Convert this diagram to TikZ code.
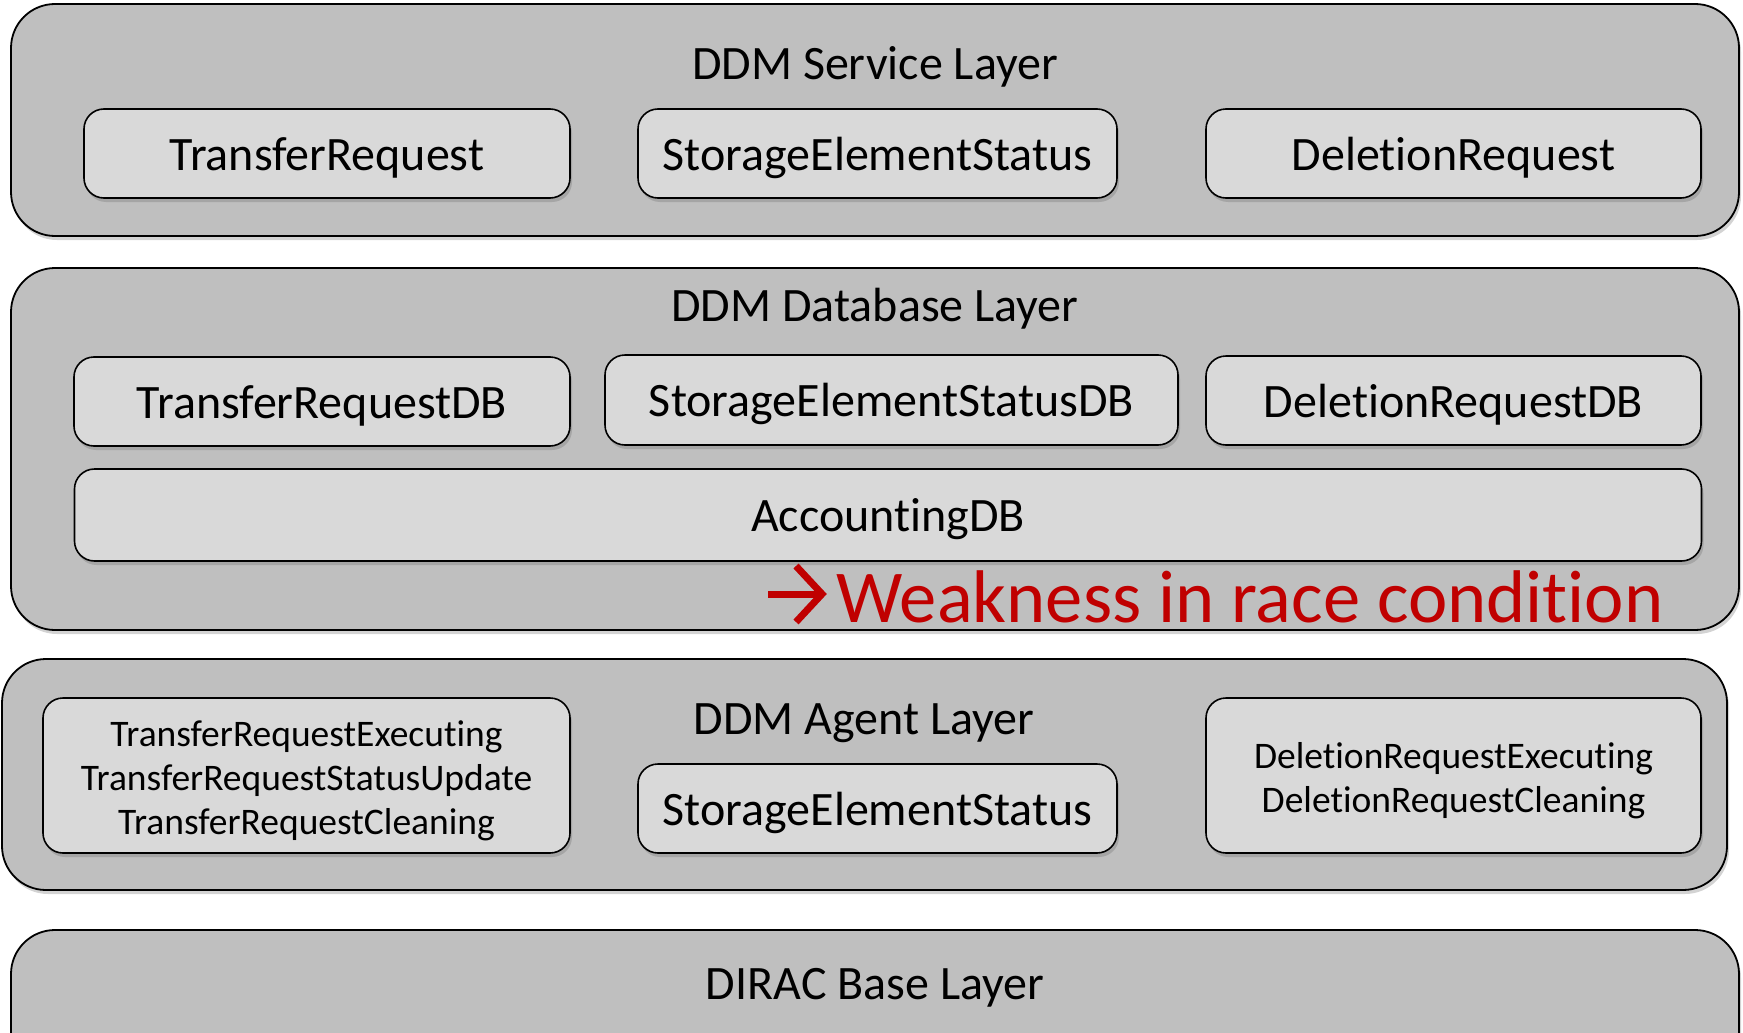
\documentclass[tikz,border=0pt]{standalone}
\usepackage{fontspec}
\setmainfont{Carlito}[Ligatures=NoCommon]
\usetikzlibrary{shadows}
\definecolor{layerfill}{RGB}{191,191,191}
\definecolor{boxfill}{RGB}{217,217,217}
\definecolor{warnred}{RGB}{192,0,0}
\tikzset{
  layerbox/.style={draw=black, line width=1.8pt, fill=layerfill, rounded corners=44pt,
    drop shadow={opacity=0.35, shadow xshift=2pt, shadow yshift=-4pt}},
  compbox/.style={draw=black, line width=1.6pt, fill=boxfill, rounded corners=20pt,
    drop shadow={opacity=0.4, shadow xshift=2pt, shadow yshift=-4pt}, inner sep=0pt, align=center},
  bigtxt/.style={font=\fontsize{48}{56}\selectfont, text height=40pt, text depth=7pt},
  smalltxt/.style={font=\fontsize{37.5}{44}\selectfont},
  titletxt/.style={font=\fontsize{48}{56}\selectfont, inner sep=0pt, anchor=base},
  warnarrow/.style={draw=warnred, line width=7pt, miter limit=10},
}
\newcommand{\firstline}{\rule{0pt}{37pt}}
\begin{document}
\begin{tikzpicture}[x=1pt,y=-1pt]
\useasboundingbox (0,0) rectangle (1743,1033);
\clip (0,0) rectangle (1743,1033);
% layers
\node[layerbox, minimum width=1728pt, minimum height=232pt] (svc) at (875,120) {};
\node[layerbox, minimum width=1728pt, minimum height=362pt] (db) at (875,449) {};
\node[layerbox, minimum width=1725pt, minimum height=231pt] (agent) at (864.5,774.5) {};
\node[layerbox, minimum width=1728pt, minimum height=160pt] (dirac) at (875,1010) {};
% titles
\node[titletxt] (svct) at (875,79) {DDM Service Layer};
\node[titletxt] (dbt) at (875,321) {DDM Database Layer};
\node[titletxt] (agt) at (864,734) {DDM Agent Layer};
\node[titletxt] (dirt) at (875,999) {DIRAC Base Layer};
% service components
\node[compbox, bigtxt, minimum width=486pt, minimum height=89pt] (tr) at (327,153.5) {TransferRequest};
\node[compbox, bigtxt, minimum width=479pt, minimum height=89pt] (ses) at (877.5,153.5) {StorageElementStatus};
\node[compbox, bigtxt, minimum width=495pt, minimum height=89pt] (dr) at (1453.5,153.5) {DeletionRequest};
% database components
\node[compbox, bigtxt, minimum width=496pt, minimum height=89pt] (trdb) at (322,401.5) {TransferRequestDB};
\node[compbox, bigtxt, minimum width=573pt, minimum height=90pt] (sesdb) at (891.5,400) {StorageElementStatusDB};
\node[compbox, bigtxt, minimum width=495pt, minimum height=89pt] (drdb) at (1453.5,400.5) {DeletionRequestDB};
\node[compbox, bigtxt, minimum width=1627pt, minimum height=92pt] (acc) at (888,515) {AccountingDB};
% warning
\coordinate (arrstart) at (768,594);
\coordinate (arrtip) at (822,594);
\draw[warnarrow] (arrstart) -- (arrtip);
\draw[warnarrow] (796,566) -- (arrtip) -- (796,622);
\node[text=warnred, inner sep=0pt, anchor=base west, font=\fontsize{74.6}{80}\selectfont] (weak) at (836,622) {Weakness in race condition};
% agent components
\node[compbox, smalltxt, minimum width=527pt, minimum height=155pt] (tra) at (306.5,775.5) {\firstline TransferRequestExecuting\\TransferRequestStatusUpdate\\TransferRequestCleaning};
\node[compbox, bigtxt, minimum width=479pt, minimum height=89pt] (sesa) at (877.5,808.5) {StorageElementStatus};
\node[compbox, smalltxt, minimum width=495pt, minimum height=155pt] (dra) at (1453.5,775.5) {\firstline DeletionRequestExecuting\\DeletionRequestCleaning};
\end{tikzpicture}
\end{document}
